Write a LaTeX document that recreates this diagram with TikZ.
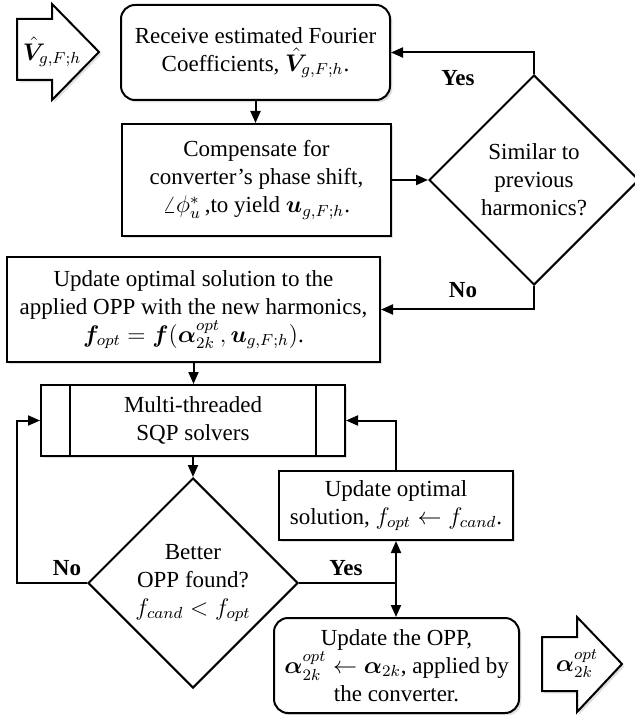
\documentclass[tikz,border=0pt]{standalone}
\usepackage{fontspec}
\setmainfont{Liberation Serif}
\usepackage{amsmath,bm}
\usetikzlibrary{shapes.geometric,arrows.meta,shadows,calc}
\begin{document}
\begin{tikzpicture}[x=0.5pt,y=-0.5pt,
  every node/.style={font=\fontsize{11.5}{14}\selectfont, align=center, inner sep=0pt},
  box/.style={draw, line width=1pt, fill=white, drop shadow={shadow xshift=1.2pt,shadow yshift=-1.2pt,opacity=0.25}},
  rbox/.style={box, rounded corners=7pt},
  dia/.style={draw, line width=1pt, diamond, fill=white, aspect=1, minimum width=105pt, minimum height=105pt},
  conn/.style={line width=1pt, -{Triangle[length=6pt,width=5pt]}},
  plain/.style={line width=1pt},
  lbl/.style={font=\fontsize{11.5}{14}\selectfont\bfseries}]
\useasboundingbox (0,0) rectangle (634,715);

% input arrow
\draw[box] (17,19) -- (52,19) -- (52,4) -- (99,52) -- (52,100) -- (52,80) -- (17,80) -- cycle;
\node (vin) at (52,52) {$\hat{\bm V}_{g,F;h}$};

% output arrow
\draw[box] (542,637) -- (577,637) -- (577,617) -- (622,664) -- (577,712) -- (577,691) -- (542,691) -- cycle;
\node (aout) at (577,664) {$\bm\alpha^{opt}_{2k}$};

\node[rbox, minimum width=134.5pt, minimum height=47.5pt] (recv) at (255.5,52.5)
  {Receive estimated Fourier\\Coefficients, $\hat{\bm V}_{g,F;h}$.};
\node[box, minimum width=134.5pt, minimum height=56pt] (comp) at (256.5,180)
  {Compensate for\\converter's phase shift,\\$\angle\phi_u^*$\,,to yield $\bm u_{g,F;h}$.};
\node[dia] (sim) at (534,180) {Similar to\\previous\\harmonics?};
\node[box, minimum width=186.5pt, minimum height=52.5pt] (upd) at (193.5,309.5)
  {Update optimal solution to the\\applied OPP with the new harmonics,\\$\bm f_{opt}=\bm f(\bm\alpha^{opt}_{2k},\bm u_{g,F;h})$.};
\node[box, minimum width=152pt, minimum height=35.5pt] (sqp) at (193,420.5)
  {Multi-threaded\\SQP solvers};
\draw[plain] ($(sqp.north west)+(30,0)$) -- ($(sqp.south west)+(30,0)$);
\draw[plain] ($(sqp.north east)+(-30,0)$) -- ($(sqp.south east)+(-30,0)$);
\node[dia] (better) at (193,583) {Better\\OPP found?\\$f_{cand}<f_{opt}$};
\node[box, minimum width=117pt, minimum height=34.5pt] (uos) at (396,505.5)
  {Update optimal\\solution, $f_{opt}\leftarrow f_{cand}$.};
\node[rbox, minimum width=122.5pt, minimum height=47.5pt] (uopp) at (396.5,665.5)
  {Update the OPP,\\$\bm\alpha^{opt}_{2k}\leftarrow\bm\alpha_{2k}$, applied by\\the converter.};

% connectors
\draw[conn] (recv.south) -- (recv.south |- comp.north);
\draw[conn] (comp.east) -- (sim.west);
\draw[conn] (sim.north) |- (recv.east);
\node[lbl] (yes1) at (458,78) {Yes};
\draw[conn] (sim.south) |- (upd.east);
\node[lbl] (no1) at (463,290) {No};
\draw[conn] (upd.south) -- (upd.south |- sqp.north);
\draw[conn] (sqp.south) -- (better.north);
\coordinate (nl) at (17,583);
\draw[conn] (better.west) -- (nl) |- (sqp.west);
\node[lbl] (no2) at (67,568) {No};
\coordinate (yj) at (396,583);
\draw[plain] (better.east) -- (yj);
\draw[conn] (yj) -- (uos.south);
\draw[conn] (yj) -- (yj |- uopp.north);
\draw[conn] (uos.north) |- (sqp.east);
\node[lbl] (yes2) at (346,568) {Yes};
\end{tikzpicture}
\end{document}
